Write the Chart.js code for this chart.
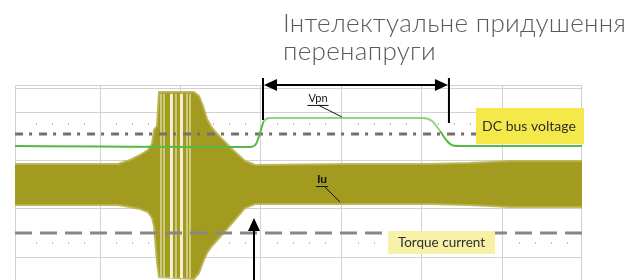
<!DOCTYPE html>
<html>
<head>
<meta charset="utf-8">
<script src="https://cdn.jsdelivr.net/npm/chart.js@4.4.1/dist/chart.umd.min.js"></script>
<style>
  html, body { margin: 0; padding: 0; background: #fff; }
  #wrap { position: relative; width: 636px; height: 280px; }
</style>
</head>
<body>
<div id="wrap"><canvas id="scope"></canvas></div>
<script>
// scope screen, values in divisions
const X_RANGE = [-0.056, 6.988];
const Y_RANGE = [-0.479, 3.583];
const gridX = [1, 2, 3, 4, 5, 6];
const gridY = [0, 1, 2, 3, 3.5];
const minorRows = [2.771, 0.292];

// Iu envelope (motor current)
const envX     = [-0.056, 1.000, 1.224, 1.373, 1.497, 1.596, 1.646, 1.671, 1.708, 1.733, 2.168, 2.230, 2.280, 2.329, 2.391, 2.491, 2.652, 2.801, 2.925, 4.106, 5.099, 5.596, 6.093, 6.988];
const iuUpper  = [1.938, 1.938, 1.938, 2.021, 2.125, 2.229, 2.354, 2.646, 2.729, 3.438, 3.438, 3.354, 3.146, 2.875, 2.688, 2.500, 2.229, 2.000, 1.917, 1.938, 1.938, 1.958, 2.000, 2.000];
const iuLower  = [1.083, 1.083, 1.083, 1.042, 1.000, 0.938, 0.813, 0.646, -0.104, -0.417, -0.458, -0.333, -0.104, 0.083, 0.229, 0.417, 0.729, 1.021, 1.104, 1.104, 1.104, 1.083, 1.042, 1.042];

// bright stripes inside the oscillation burst
const burstTop = 3.40;
const burstBottom = -0.44;
const burstLightX = [1.888, 2.012];
const burstPaleX  = [1.758, 1.795, 1.944, 2.081, 2.118];

// Vpn (DC bus voltage)
const vpnX = [-0.056, 1.000, 2.242, 2.863, 2.938, 2.988, 3.037, 3.112, 5.012, 5.124, 5.224, 5.311, 5.385, 5.472, 6.988];
const vpnY = [2.313, 2.302, 2.292, 2.292, 2.354, 2.583, 2.833, 2.896, 2.896, 2.833, 2.625, 2.417, 2.323, 2.313, 2.313];

// reference levels
const dcRefLevel = 2.5625;
const torqueLevel = 0.5;

const titleLines = ['Інтелектуальне придушення', 'перенапруги'];
const labelVpn = 'Vpn';
const labelIu = 'Iu';
const labelDc = 'DC bus voltage';
const labelTorque = 'Torque current';

const toPts = (xs, ys) => xs.map((x, i) => ({ x, y: ys[i] }));
const stripes = xs => xs.flatMap(x => [{ x, y: burstTop }, { x, y: burstBottom }, { x, y: null }]);
const level = y => [{ x: X_RANGE[0], y }, { x: X_RANGE[1], y }];

// annotation placement, in scale units
const notes = {
    span: { x0: 3.025, x1: 5.335, y: 3.583, top: 3.73, bot0: 2.854, bot1: 2.79 },
    upArrow: { x: 2.913, tip: 0.8125 },
    vpn: { x: 3.708, y: 3.23, lead: [3.708, 3.167, 4.006, 2.917] },
    iu: { x: 3.758, y: 1.54, lead: [3.795, 1.458, 3.981, 1.146] },
    dcBox: { x0: 5.671, x1: 7.012, y0: 3.104, y1: 2.354 },
    tqBox: { x0: 4.578, x1: 5.907, y0: 0.542, y1: 0.0625 }
};

function arrowHead(ctx, tx, ty, dx, dy, len, half) {
    ctx.beginPath();
    ctx.moveTo(tx, ty);
    ctx.lineTo(tx - dx * len - dy * half, ty - dy * len + dx * half);
    ctx.lineTo(tx - dx * len + dy * half, ty - dy * len - dx * half);
    ctx.closePath();
    ctx.fill();
}

const scopeDecor = {
    id: 'scopeDecor',
    beforeDatasetsDraw(chart) {
        const { ctx, chartArea: a, scales: { x, y } } = chart;
        ctx.save();
        ctx.fillStyle = '#bdbdbd';
        minorRows.forEach(r => {
            const yy = Math.round(y.getPixelForValue(r));
            for (let v = 0; v < X_RANGE[1]; v += 0.2) {
                if (Math.abs(v - Math.round(v)) < 0.01) continue;
                ctx.fillRect(Math.round(x.getPixelForValue(v)), yy - 1, 1, 2);
            }
        });
        ctx.strokeStyle = '#d0d0d0';
        ctx.lineWidth = 1;
        ctx.beginPath();
        ctx.moveTo(a.left, a.top + 0.5);
        ctx.lineTo(a.right, a.top + 0.5);
        ctx.moveTo(a.right - 0.5, a.top);
        ctx.lineTo(a.right - 0.5, a.bottom);
        ctx.stroke();
        ctx.restore();
    },
    afterDatasetsDraw(chart) {
        const { ctx, scales: { x, y } } = chart;
        const px = v => x.getPixelForValue(v);
        const py = v => y.getPixelForValue(v);
        ctx.save();

        // yellow boxes
        const box = (b, color) => {
            ctx.fillStyle = color;
            ctx.fillRect(px(b.x0), py(b.y0), px(b.x1) - px(b.x0), py(b.y1) - py(b.y0));
        };
        box(notes.dcBox, '#f4e84a');
        box(notes.tqBox, '#f6f1a6');

        ctx.fillStyle = '#2e2e2e';
        ctx.textAlign = 'center';
        ctx.textBaseline = 'middle';
        ctx.font = '14px Lato, "DejaVu Sans", sans-serif';
        ctx.fillText(labelDc, (px(notes.dcBox.x0) + px(notes.dcBox.x1)) / 2 - 1, (py(notes.dcBox.y0) + py(notes.dcBox.y1)) / 2);
        ctx.font = '13.5px Lato, "DejaVu Sans", sans-serif';
        ctx.fillText(labelTorque, (px(notes.tqBox.x0) + px(notes.tqBox.x1)) / 2, (py(notes.tqBox.y0) + py(notes.tqBox.y1)) / 2);

        // span arrow over the suppression interval
        const s = notes.span;
        ctx.strokeStyle = '#000';
        ctx.fillStyle = '#000';
        ctx.lineWidth = 2;
        ctx.beginPath();
        ctx.moveTo(px(s.x0), py(s.top));
        ctx.lineTo(px(s.x0), py(s.bot0));
        ctx.moveTo(px(s.x1), py(s.top));
        ctx.lineTo(px(s.x1), py(s.bot1));
        ctx.moveTo(px(s.x0) + 10, py(s.y));
        ctx.lineTo(px(s.x1) - 10, py(s.y));
        ctx.stroke();
        arrowHead(ctx, px(s.x0) + 1, py(s.y), -1, 0, 13, 6);
        arrowHead(ctx, px(s.x1) - 1, py(s.y), 1, 0, 13, 6);

        // upward arrow
        const u = notes.upArrow;
        ctx.beginPath();
        ctx.moveTo(px(u.x), py(u.tip) + 10);
        ctx.lineTo(px(u.x), chart.height + 2);
        ctx.stroke();
        arrowHead(ctx, px(u.x), py(u.tip), 0, -1, 13, 6);

        // Vpn / Iu labels with leaders
        const tag = (n, text, font) => {
            ctx.font = font;
            ctx.textAlign = 'center';
            ctx.textBaseline = 'alphabetic';
            ctx.fillStyle = '#111';
            ctx.fillText(text, px(n.x), py(n.y));
            const w = ctx.measureText(text).width;
            ctx.lineWidth = 1;
            ctx.strokeStyle = '#111';
            ctx.beginPath();
            ctx.moveTo(px(n.x) - w / 2 - 1, py(n.y) + 3.5);
            ctx.lineTo(px(n.x) + w / 2 + 1, py(n.y) + 3.5);
            ctx.moveTo(px(n.lead[0]), py(n.lead[1]));
            ctx.lineTo(px(n.lead[2]), py(n.lead[3]));
            ctx.stroke();
        };
        tag(notes.vpn, labelVpn, '11px Lato, "DejaVu Sans", sans-serif');
        tag(notes.iu, labelIu, 'bold 12px Lato, "DejaVu Sans", sans-serif');
        ctx.restore();
    },
    afterDraw(chart) {
        const { ctx } = chart;
        ctx.save();
        ctx.fillStyle = '#5a5a5a';
        ctx.textAlign = 'left';
        ctx.textBaseline = 'alphabetic';
        ctx.font = '300 26px Lato, "DejaVu Sans", sans-serif';
        ctx.letterSpacing = '0.3px';
        ctx.fillText(titleLines[0], 283, 32);
        ctx.fillText(titleLines[1], 283, 60);
        ctx.restore();
    }
};

const gridStyle = { color: '#d2d2d2', lineWidth: 1, drawTicks: false };

new Chart(document.getElementById('scope'), {
    type: 'line',
    data: {
        datasets: [
            {
                label: 'Vpn',
                data: toPts(vpnX, vpnY),
                borderColor: '#58b845',
                borderWidth: 2,
                cubicInterpolationMode: 'monotone',
                segment: {
                    borderColor: c => (c.p0.parsed.y > 2.6 && c.p1.parsed.y > 2.6) ? '#92d382' : undefined
                },
                order: 0
            },
            { label: 'DC level', data: level(dcRefLevel), borderColor: '#767069', borderWidth: 3, borderDash: [8, 6, 3, 7], order: 1 },
            { label: 'Torque level', data: level(torqueLevel), borderColor: '#8b8681', borderWidth: 3, borderDash: [17, 8], order: 1 },
            { label: 'burst light', data: stripes(burstLightX), borderColor: '#f1efd4', borderWidth: 3, order: 2 },
            { label: 'burst pale', data: stripes(burstPaleX), borderColor: '#cec87c', borderWidth: 2, order: 3 },
            { label: 'Iu max', data: toPts(envX, iuUpper), borderColor: 'rgba(185,179,80,0.9)', borderWidth: 2, fill: false, order: 4 },
            { label: 'Iu min', data: toPts(envX, iuLower), borderColor: 'rgba(185,179,80,0.9)', borderWidth: 2, backgroundColor: '#a29b20', fill: '-1', order: 4 }
        ]
    },
    options: {
        animation: false,
        responsive: true,
        maintainAspectRatio: false,
        devicePixelRatio: 1,
        layout: { padding: { left: 15, right: 54, top: 85, bottom: 0 } },
        elements: { point: { radius: 0 }, line: { tension: 0 } },
        plugins: { legend: { display: false }, tooltip: { enabled: false } },
        scales: {
            x: {
                type: 'linear',
                min: X_RANGE[0],
                max: X_RANGE[1],
                afterBuildTicks: sc => { sc.ticks = gridX.map(v => ({ value: v })); },
                ticks: { display: false },
                grid: gridStyle,
                border: { color: '#d2d2d2' }
            },
            y: {
                type: 'linear',
                min: Y_RANGE[0],
                max: Y_RANGE[1],
                afterBuildTicks: sc => { sc.ticks = gridY.map(v => ({ value: v })); },
                ticks: { display: false },
                grid: gridStyle,
                border: { color: '#d2d2d2' }
            }
        }
    },
    plugins: [scopeDecor]
});
</script>
</body>
</html>
